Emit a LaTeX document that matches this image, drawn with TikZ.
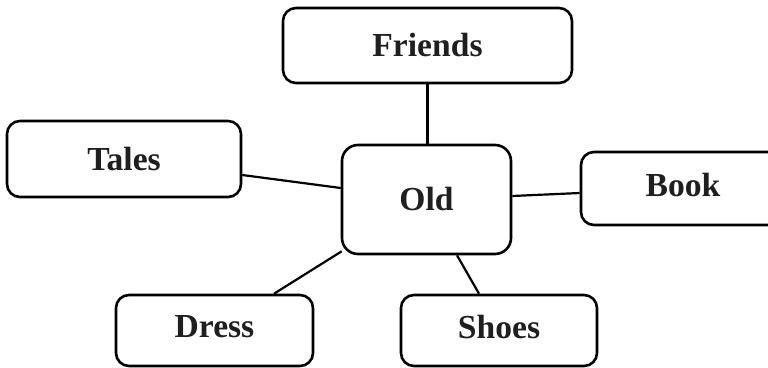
\documentclass[tikz,border=0pt]{standalone}
\usepackage{fontspec}
\setmainfont{Liberation Serif}
\begin{document}
\begin{tikzpicture}[x=1pt,y=-1pt,
  box/.style={draw=black, line width=2.6pt, rounded corners=13pt, fill=white,
    inner sep=0pt, font=\fontsize{33.6}{40}\selectfont\bfseries, text=black!88},
  link/.style={draw=black, line width=2.2pt}]
\clip (0,0) rectangle (768,367);
\fill[white] (0,0) rectangle (768,367);
\node[box, minimum width=289pt, minimum height=75pt] (friends) at (427.5,45.5) {Friends};
\node[box, minimum width=169pt, minimum height=109pt, rounded corners=16pt] (old) at (426.5,199.5) {Old};
\node[box, minimum width=234pt, minimum height=76pt] (tales) at (124,159) {Tales};
\node[box, minimum width=204pt, minimum height=73pt] (book) at (683,188.5) {\raisebox{7pt}{Book}};
\node[box, minimum width=197pt, minimum height=71pt] (dress) at (214.5,330.5) {\raisebox{9pt}{Dress}};
\node[box, minimum width=196pt, minimum height=71pt] (shoes) at (499,330.5) {\raisebox{7pt}{Shoes}};
\draw[link] (friends.south) -- (friends.south |- old.north);
\draw[link] ([yshift=-16pt]tales.east) -- ([yshift=11.5pt]old.west);
\draw[link] ([yshift=3.5pt]old.east) -- ([yshift=-4.5pt]book.west);
\draw[link] ([xshift=1pt,yshift=4pt]old.south west) -- ([xshift=59.5pt]dress.north);
\draw[link] ([xshift=30.5pt]old.south) -- ([xshift=-20pt]shoes.north);
\end{tikzpicture}
\end{document}
